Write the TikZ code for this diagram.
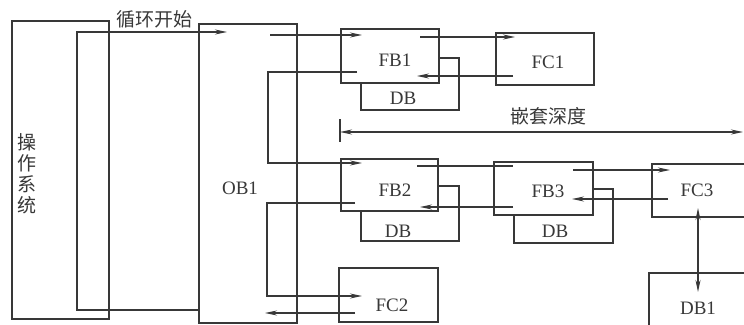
\documentclass[tikz,border=0pt]{standalone}
\usepackage{fontspec}
\setmainfont{Liberation Serif}
\newfontfamily\cjk{Noto Sans CJK SC}
\usetikzlibrary{arrows.meta}
\definecolor{ink}{HTML}{383838}
\begin{document}
\begin{tikzpicture}[x=1pt,y=-1pt,
  box/.style={draw=ink, line width=1.7pt, rectangle, inner sep=0pt, anchor=north west, fill=white},
  lbl/.style={text=ink, font=\fontsize{19}{20}\selectfont, inner sep=0pt},
  zh/.style={text=ink, font=\cjk\fontsize{19}{21}\selectfont, inner sep=0pt, align=center},
  conn/.style={draw=ink, line width=1.3pt},
  arr/.style={conn, -{Stealth[length=12pt,width=5pt]}},
  darr/.style={conn, {Stealth[length=12pt,width=5pt]}-{Stealth[length=12pt,width=5pt]}},
]
\useasboundingbox (0,0) rectangle (744,324);
\clip (0,0) rectangle (744,324);
\fill[white] (0,0) rectangle (744,324);

% boxes
\node[box, minimum width=97pt, minimum height=298pt] (os) at (11,20) {};
\node[box, minimum width=98pt, minimum height=299pt] (ob1) at (198,23) {};
\node[box, minimum width=98pt, minimum height=52pt] (dba) at (360,57) {};
\node[box, minimum width=98pt, minimum height=54pt] (fb1) at (340,28) {};
\node[box, minimum width=98pt, minimum height=52pt] (fc1) at (495,32) {};
\node[box, minimum width=98pt, minimum height=55pt] (dbb) at (360,185) {};
\node[box, minimum width=97pt, minimum height=52pt] (fb2) at (340,158) {};
\node[box, minimum width=99pt, minimum height=54pt] (dbc) at (513,188) {};
\node[box, minimum width=99pt, minimum height=53pt] (fb3) at (493,161) {};
\node[box, minimum width=110pt, minimum height=53pt] (fc3) at (651,163) {};
\node[box, minimum width=110pt, minimum height=70pt] (db1) at (648,272) {};
\node[box, minimum width=99pt, minimum height=54pt] (fc2) at (338,267) {};

% labels
\node[zh] (oslbl) at (27,174) {操\\作\\系\\统};
\node[lbl] (ob1lbl) at (240,188) {OB1};
\node[lbl] (fb1lbl) at (395,60) {FB1};
\node[lbl] (dbalbl) at (403,98) {DB};
\node[lbl] (fc1lbl) at (548,62) {FC1};
\node[lbl] (fb2lbl) at (395,190) {FB2};
\node[lbl] (dbblbl) at (398,231) {DB};
\node[lbl] (fb3lbl) at (548,191) {FB3};
\node[lbl] (dbclbl) at (555,231) {DB};
\node[lbl] (fc3lbl) at (697,190) {FC3};
\node[lbl] (db1lbl) at (698,308) {DB1};
\node[lbl] (fc2lbl) at (392,305) {FC2};
\node[zh] (looplbl) at (154,19) {循环开始};
\node[zh] (nestlbl) at (548,116) {嵌套深度};

% coordinates
\coordinate (loopS) at (198,310);
\coordinate (loopE) at (227,32);
\coordinate (ob1o) at (270,35);
\coordinate (fb1i) at (362,35);
\coordinate (fb1o) at (420,37);
\coordinate (fc1i) at (515,37);
\coordinate (fc1r) at (513,76);
\coordinate (fb1r) at (417,76);
\coordinate (fb1b) at (357,72);
\coordinate (fb2i) at (362,163);
\coordinate (fb2o) at (417,166);
\coordinate (fb3i) at (513,166);
\coordinate (fb3o) at (573,170);
\coordinate (fc3i) at (670,170);
\coordinate (fc3r) at (668,199);
\coordinate (fb3r) at (572,199);
\coordinate (fb3b) at (513,207);
\coordinate (fb2r) at (420,207);
\coordinate (fb2b) at (355,203);
\coordinate (fc2i) at (362,296);
\coordinate (fc2b) at (355,313);
\coordinate (ob1r) at (265,313);
\coordinate (nestL) at (340,132);
\coordinate (nestR) at (743,132);
\coordinate (fc3d) at (698,208);
\coordinate (db1u) at (698,292);

% connectors
\draw[arr] (loopS) -- (77,310) -- (77,32) -- (loopE);
\draw[arr] (ob1o) -- (fb1i);
\draw[arr] (fb1o) -- (fc1i);
\draw[arr] (fc1r) -- (fb1r);
\draw[arr] (fb1b) -- (268,72) -- (268,163) -- (fb2i);
\draw[conn] (fb2o) -- (fb3i);
\draw[arr] (fb3o) -- (fc3i);
\draw[arr] (fc3r) -- (fb3r);
\draw[arr] (fb3b) -- (fb2r);
\draw[arr] (fb2b) -- (267,203) -- (267,296) -- (fc2i);
\draw[arr] (fc2b) -- (ob1r);
\draw[darr] (nestL) -- (nestR);
\draw[conn] (340,119) -- (340,142);
\draw[darr] (fc3d) -- (db1u);
\end{tikzpicture}
\end{document}
